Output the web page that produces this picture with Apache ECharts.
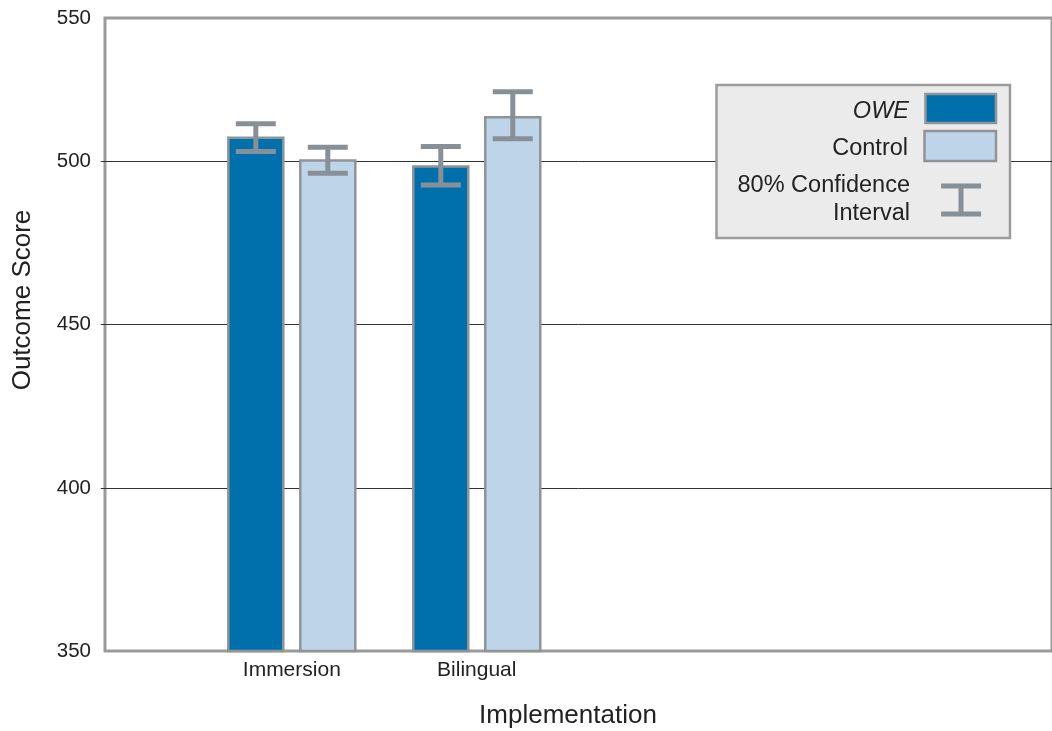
<!DOCTYPE html>
<html>
<head>
<meta charset="utf-8">
<title>Outcome Score by Implementation</title>
<script src="https://cdn.jsdelivr.net/npm/echarts@6/dist/echarts.min.js"></script>
<style>
  html, body { margin: 0; padding: 0; background: #ffffff; }
  #chart { width: 1052px; height: 731px; }
</style>
</head>
<body>
<div id="chart"></div>
<script>
// Program types and their positions along the x axis
const categories = ['Immersion', 'Bilingual'];
const categoryX = [1, 2];

// Mean outcome scores
const oweScores = [507.7, 498.9];
const controlScores = [500.7, 514.0];

// 80% confidence intervals [low, high]
const oweCI = [[503.1, 511.6], [492.8, 504.6]];
const controlCI = [[496.4, 504.4], [507.0, 521.4]];

// Y axis: gridlines every 50, labelled ends
const yMin = 350;
const yMax = 544;
const yTickValues = [400, 450, 500];
const yLabelValues = [350, 400, 450, 500, yMax];
const yTickLabels = ['350', '400', '450', '500', '550'];

const FONT = 'Liberation Sans, Arial, Helvetica, sans-serif';
const DARK_BLUE = '#0070ac';
const LIGHT_BLUE = '#bed4e9';
const BAR_BORDER = '#909398';
const CI_COLOR = '#889097';
const TEXT = '#222222';

const BAR_W = 57.5;
const BAR_GAP = 0.252;
const GROUP_OFFSET = BAR_W * (1 + BAR_GAP) / 2;

const chart = echarts.init(document.getElementById('chart'), null, { renderer: 'canvas' });

// [x, low, high, side] where side = -1 for the first bar of a group, +1 for the second
const ciData = [];
categoryX.forEach(function (x, i) {
  ciData.push([x, oweCI[i][0], oweCI[i][1], -1]);
  ciData.push([x, controlCI[i][0], controlCI[i][1], 1]);
});

function renderCI(params, api) {
  const x = api.value(0);
  const lo = api.coord([x, api.value(1)]);
  const hi = api.coord([x, api.value(2)]);
  const cx = lo[0] + api.value(3) * GROUP_OFFSET;
  const half = 20;
  const style = { stroke: CI_COLOR, lineWidth: 5, lineCap: 'butt' };
  return {
    type: 'group',
    children: [
      { type: 'line', shape: { x1: cx, y1: lo[1], x2: cx, y2: hi[1] }, style: style },
      { type: 'line', shape: { x1: cx - half, y1: hi[1], x2: cx + half, y2: hi[1] }, style: style },
      { type: 'line', shape: { x1: cx - half, y1: lo[1], x2: cx + half, y2: lo[1] }, style: style }
    ]
  };
}

const legendText = { fontFamily: FONT, fontSize: 23.5, fill: TEXT, align: 'right', verticalAlign: 'middle' };

const option = {
  backgroundColor: '#ffffff',
  animation: false,
  grid: {
    left: 105,
    top: 18,
    right: -5,
    bottom: 80,
    show: true,
    borderColor: '#9a9a9a',
    borderWidth: 3,
    backgroundColor: 'transparent'
  },
  xAxis: {
    type: 'value',
    min: -0.01,
    max: 5.11,
    axisLine: { show: false },
    axisTick: { show: false },
    splitLine: { show: false },
    axisLabel: {
      customValues: categoryX,
      formatter: function (v) {
        const idx = categoryX.indexOf(v);
        return idx >= 0 ? categories[idx] : '';
      },
      margin: 9,
      fontFamily: FONT,
      fontSize: 21,
      color: TEXT
    }
  },
  yAxis: {
    type: 'value',
    min: yMin,
    max: yMax,
    interval: 50,
    axisLine: { show: false },
    axisTick: {
      show: true,
      customValues: yTickValues,
      length: 6,
      lineStyle: { color: '#333333', width: 1 }
    },
    splitLine: {
      show: true,
      showMinLine: true,
      showMaxLine: true,
      lineStyle: { color: '#333333', width: 1 }
    },
    axisLabel: {
      customValues: yLabelValues,
      formatter: function (v) {
        const idx = yLabelValues.indexOf(v);
        return idx >= 0 ? yTickLabels[idx] : '';
      },
      margin: 14,
      fontFamily: FONT,
      fontSize: 20.5,
      color: TEXT
    }
  },
  series: [
    {
      name: 'OWE',
      type: 'bar',
      barWidth: BAR_W,
      barGap: (BAR_GAP * 100) + '%',
      itemStyle: { color: DARK_BLUE, borderColor: BAR_BORDER, borderWidth: 2.5 },
      data: categoryX.map(function (x, i) { return [x, oweScores[i]]; }),
      z: 2
    },
    {
      name: 'Control',
      type: 'bar',
      barWidth: BAR_W,
      barGap: (BAR_GAP * 100) + '%',
      itemStyle: { color: LIGHT_BLUE, borderColor: BAR_BORDER, borderWidth: 2.5 },
      data: categoryX.map(function (x, i) { return [x, controlScores[i]]; }),
      z: 2
    },
    {
      name: '80% Confidence Interval',
      type: 'custom',
      renderItem: renderCI,
      data: ciData,
      encode: { x: 0, y: [1, 2] },
      z: 5
    }
  ],
  graphic: [
    // axis titles
    {
      type: 'text', x: 568, y: 716, z: 10,
      style: { text: 'Implementation', fontFamily: FONT, fontSize: 26, fill: TEXT, align: 'center', verticalAlign: 'middle' }
    },
    {
      type: 'text', x: 23, y: 300, rotation: Math.PI / 2, z: 10,
      style: { text: 'Outcome Score', fontFamily: FONT, fontSize: 26, fill: TEXT, align: 'center', verticalAlign: 'middle' }
    },
    // legend box
    {
      type: 'rect', z: 20,
      shape: { x: 716.5, y: 85, width: 293.5, height: 153 },
      style: { fill: '#ebebeb', stroke: '#9b9b9b', lineWidth: 2.5 }
    },
    {
      type: 'text', x: 909, y: 111.5, z: 21,
      style: Object.assign({}, legendText, { text: 'OWE', fontStyle: 'italic' })
    },
    {
      type: 'rect', z: 21,
      shape: { x: 925.5, y: 94, width: 70.5, height: 29 },
      style: { fill: DARK_BLUE, stroke: BAR_BORDER, lineWidth: 2.5 }
    },
    {
      type: 'text', x: 908, y: 149, z: 21,
      style: Object.assign({}, legendText, { text: 'Control' })
    },
    {
      type: 'rect', z: 21,
      shape: { x: 924.5, y: 131, width: 71.5, height: 30 },
      style: { fill: LIGHT_BLUE, stroke: BAR_BORDER, lineWidth: 2.5 }
    },
    {
      type: 'text', x: 910, y: 186, z: 21,
      style: Object.assign({}, legendText, { text: '80% Confidence' })
    },
    {
      type: 'text', x: 910, y: 214, z: 21,
      style: Object.assign({}, legendText, { text: 'Interval' })
    },
    {
      type: 'group', z: 21,
      children: [
        { type: 'line', z: 21, shape: { x1: 961, y1: 186, x2: 961, y2: 214 }, style: { stroke: CI_COLOR, lineWidth: 5 } },
        { type: 'line', z: 21, shape: { x1: 941, y1: 186, x2: 981, y2: 186 }, style: { stroke: CI_COLOR, lineWidth: 5 } },
        { type: 'line', z: 21, shape: { x1: 941, y1: 214, x2: 981, y2: 214 }, style: { stroke: CI_COLOR, lineWidth: 5 } }
      ]
    }
  ]
};

chart.setOption(option);
</script>
</body>
</html>
